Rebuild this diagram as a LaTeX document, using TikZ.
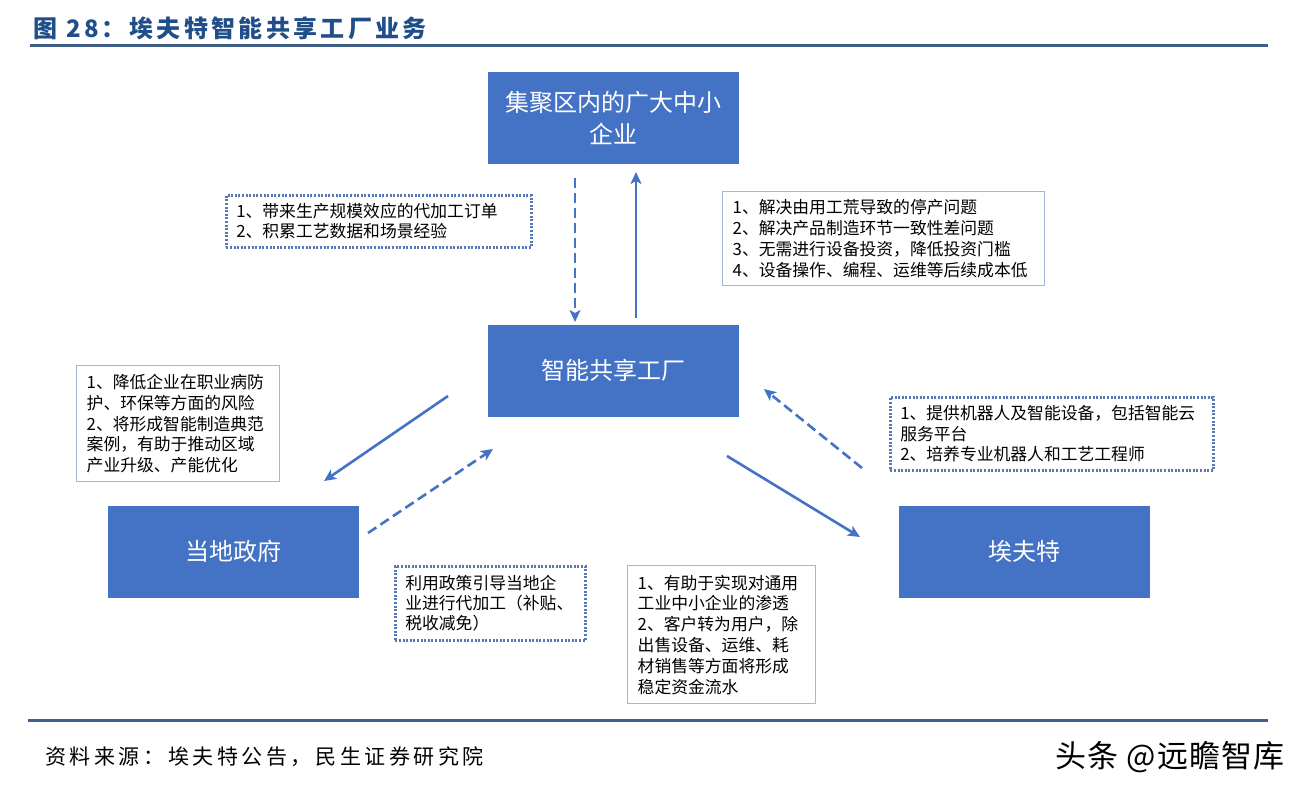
\documentclass[tikz,border=0pt]{standalone}
\usepackage{fontspec}
\setmainfont{Noto Sans CJK SC}
\newfontfamily\spacedtitle[LetterSpace=14]{Noto Sans CJK SC}
\newfontfamily\spacedsrc[LetterSpace=17]{Noto Sans CJK SC}
\newfontfamily\spacedwm[LetterSpace=4]{Noto Sans CJK SC}
\usetikzlibrary{arrows.meta}
\definecolor{boxblue}{HTML}{4472C4}
\definecolor{titleblue}{HTML}{1F4E89}
\definecolor{rulecol}{HTML}{3F5F87}
\definecolor{thinborder}{HTML}{A3B6DC}
\definecolor{dotcol}{HTML}{5877B5}
\begin{document}
\begin{tikzpicture}[x=1pt,y=-1pt,
  mainbox/.style={fill=boxblue, draw=none, text=white, minimum width=251pt, minimum height=92pt,
    align=center, font=\fontsize{24}{32}\selectfont, inner sep=0pt},
  notebox/.style={draw=thinborder, line width=1.4pt, fill=white, align=left, inner xsep=10pt, inner ysep=0pt,
    font=\fontsize{16.8}{20.8}\selectfont, anchor=north west},
  dotbox/.style={draw=dotcol, line width=2.6pt, dash pattern=on 2pt off 1.6pt, fill=white, align=left,
    inner xsep=10pt, inner ysep=0pt, font=\fontsize{16.8}{20.3}\selectfont, anchor=north west},
  solidarrow/.style={draw=boxblue, line width=2.6pt, -{Stealth[length=12pt,width=11pt,inset=3pt]}},
  dasharrow/.style={draw=boxblue, line width=2.6pt, dash pattern=on 10pt off 5pt, -{Stealth[length=12pt,width=11pt,inset=3pt]}},
]
\useasboundingbox (0,0) rectangle (1307,796);
\fill[white] (0,0) rectangle (1307,796);

% title
\node[anchor=west, text=titleblue, font=\spacedtitle\fontsize{24}{26}\selectfont\bfseries, inner sep=0pt] (title) at (33,28) {图 28：埃夫特智能共享工厂业务};
\draw[rulecol, line width=3pt] (30,45) coordinate (r1a) -- (1268,45) coordinate (r1b);

% main boxes
\node[mainbox] (top) at (613.5,117.5) {集聚区内的广大中小\\企业};
\node[mainbox] (center) at (613.5,370.5) {智能共享工厂};
\node[mainbox] (gov) at (233.5,551.5) {当地政府};
\node[mainbox] (eft) at (1024.5,551.5) {埃夫特};

% note boxes
\node[dotbox, minimum width=305pt, minimum height=52pt, text width=285pt] (n1) at (225,194)
  {1、带来生产规模效应的代加工订单\\2、积累工艺数据和场景经验};
\node[notebox, minimum width=322pt, minimum height=94pt, text width=302pt] (n2) at (722,191)
  {1、解决由用工荒导致的停产问题\\2、解决产品制造环节一致性差问题\\3、无需进行设备投资，降低投资门槛\\4、设备操作、编程、运维等后续成本低};
\node[notebox, minimum width=203pt, minimum height=116pt, text width=183pt] (n3) at (76,365)
  {1、降低企业在职业病防\\护、环保等方面的风险\\2、将形成智能制造典范\\案例，有助于推动区域\\产业升级、产能优化};
\node[dotbox, minimum width=323pt, minimum height=73pt, text width=303pt] (n4) at (889,396)
  {1、提供机器人及智能设备，包括智能云\\服务平台\\2、培养专业机器人和工艺工程师};
\node[dotbox, minimum width=190pt, minimum height=74pt, text width=170pt] (n5) at (394,565)
  {利用政策引导当地企\\业进行代加工（补贴、\\税收减免）};
\node[notebox, minimum width=188pt, minimum height=138pt, text width=168pt] (n6) at (627,565)
  {1、有助于实现对通用\\工业中小企业的渗透\\2、客户转为用户，除\\出售设备、运维、耗\\材销售等方面将形成\\稳定资金流水};

% connectors
\coordinate (a1s) at (575,178);
\coordinate (a1e) at (575,322);
\coordinate (a2s) at (636,318);
\coordinate (a2e) at (636,172);
\coordinate (a3s) at (448,396);
\coordinate (a3e) at (324,481);
\coordinate (a4s) at (368,533);
\coordinate (a4e) at (493,449);
\coordinate (a5s) at (727,456);
\coordinate (a5e) at (860,537);
\coordinate (a6s) at (862,468);
\coordinate (a6e) at (764,389);
\draw[dasharrow] (a1s) -- (a1e);
\draw[solidarrow] (a2s) -- (a2e);
\draw[solidarrow] (a3s) -- (a3e);
\draw[dasharrow] (a4s) -- (a4e);
\draw[solidarrow] (a5s) -- (a5e);
\draw[dasharrow] (a6s) -- (a6e);

% bottom
\draw[rulecol, line width=3pt] (28,720) coordinate (r2a) -- (1268,720) coordinate (r2b);
\node[anchor=west, font=\spacedsrc\fontsize{21}{24}\selectfont, inner sep=0pt] (src) at (45,757) {资料来源：埃夫特公告，民生证券研究院};
\node[anchor=east, font=\spacedwm\fontsize{31}{34}\selectfont, inner sep=0pt] (wm) at (1285,757) {头条 @远瞻智库};
\end{tikzpicture}
\end{document}
